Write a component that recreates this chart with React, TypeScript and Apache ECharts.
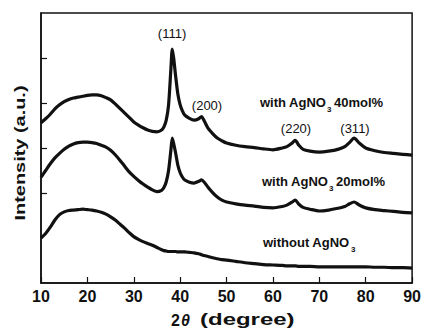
import React, { useEffect, useRef } from "react";
import * as echarts from "echarts";

const theta = [10, 11, 12, 13, 14, 15, 16, 17, 18, 19, 20, 21, 22, 23, 24, 25, 26, 27, 28, 29, 30, 31, 32, 33, 34, 35, 36, 36.5, 37, 37.5, 38, 38.3, 38.6, 39, 39.5, 40, 40.5, 41, 42, 43, 44, 44.6, 45.2, 46, 47, 48, 49, 50, 52, 54, 56, 58, 60, 62, 63, 64, 64.8, 65.6, 66.5, 68, 70, 72, 74, 75.5, 76.5, 77.5, 78.5, 80, 82, 84, 86, 88, 90];

const with40 = [3.56, 3.65, 3.75, 3.87, 3.96, 4.03, 4.08, 4.11, 4.13, 4.15, 4.17, 4.18, 4.18, 4.16, 4.12, 4.07, 3.98, 3.88, 3.78, 3.68, 3.58, 3.51, 3.45, 3.40, 3.37, 3.36, 3.40, 3.47, 3.62, 3.96, 4.75, 5.2, 5.0, 4.62, 4.2, 3.96, 3.82, 3.73, 3.66, 3.62, 3.65, 3.70, 3.60, 3.44, 3.32, 3.22, 3.16, 3.11, 3.06, 3.03, 3.01, 2.98, 2.96, 3.0, 3.03, 3.10, 3.17, 3.06, 2.97, 2.93, 2.91, 2.93, 2.97, 3.03, 3.12, 3.22, 3.12, 3.0, 2.94, 2.9, 2.88, 2.86, 2.84];

const with20 = [2.35, 2.5, 2.65, 2.78, 2.88, 2.97, 3.04, 3.09, 3.12, 3.13, 3.13, 3.12, 3.10, 3.06, 3.02, 2.95, 2.85, 2.73, 2.60, 2.47, 2.37, 2.28, 2.20, 2.13, 2.07, 2.03, 2.06, 2.12, 2.25, 2.50, 2.95, 3.22, 3.1, 2.9, 2.62, 2.45, 2.35, 2.29, 2.24, 2.22, 2.26, 2.29, 2.24, 2.13, 2.01, 1.91, 1.84, 1.80, 1.76, 1.73, 1.71, 1.68, 1.67, 1.70, 1.73, 1.79, 1.84, 1.75, 1.68, 1.64, 1.60, 1.62, 1.66, 1.70, 1.76, 1.80, 1.74, 1.67, 1.63, 1.61, 1.59, 1.57, 1.56];

const without = [1.0, 1.1, 1.24, 1.40, 1.52, 1.58, 1.61, 1.62, 1.63, 1.64, 1.63, 1.62, 1.60, 1.57, 1.53, 1.47, 1.40, 1.31, 1.22, 1.12, 1.03, 0.97, 0.92, 0.88, 0.84, 0.79, 0.74, 0.72, 0.71, 0.70, 0.70, 0.70, 0.70, 0.70, 0.69, 0.69, 0.69, 0.69, 0.68, 0.67, 0.65, 0.63, 0.61, 0.59, 0.56, 0.54, 0.52, 0.51, 0.48, 0.45, 0.43, 0.41, 0.40, 0.39, 0.38, 0.38, 0.38, 0.37, 0.37, 0.37, 0.36, 0.36, 0.36, 0.36, 0.36, 0.36, 0.36, 0.36, 0.35, 0.35, 0.34, 0.34, 0.33];

const xTicks = [10, 20, 30, 40, 50, 60, 70, 80, 90];
const yTickValues = [2, 3, 4, 5];

const FONT = "'Liberation Sans', Arial, Helvetica, sans-serif";

function txt(text: string, x: number, y: number, opts: any = {}) {
  const { align = "center", size = 12, weight = "bold", italic = false, ...rest } = opts;
  return {
    type: "text",
    x,
    y,
    z: 100,
    ...rest,
    style: {
      text,
      fill: "#111",
      fontFamily: FONT,
      fontSize: size,
      fontWeight: weight,
      fontStyle: italic ? "italic" : "normal",
      align,
      textAlign: align,
      verticalAlign: "middle",
      textVerticalAlign: "middle",
    },
  };
}

export default function App() {
  const ref = useRef<HTMLDivElement>(null);
  useEffect(() => {
    const chart = echarts.init(ref.current!, null, { renderer: "svg" });
    const mk = (vals: number[]) => theta.map((t, i) => [t, vals[i]]);
    const lineSeries = (name: string, vals: number[]) => ({
      name,
      type: "line",
      data: mk(vals),
      showSymbol: false,
      smooth: 0.25,
      lineStyle: { color: "#111", width: 3.2 },
      silent: true,
    });
    chart.setOption({
      animation: false,
      backgroundColor: "#fff",
      grid: {
        left: 41,
        right: 10,
        top: 13,
        bottom: 45,
        show: true,
        borderColor: "#111",
        borderWidth: 1.5,
        backgroundColor: "transparent",
      },
      xAxis: {
        type: "value",
        min: xTicks[0],
        max: xTicks[xTicks.length - 1],
        interval: 10,
        axisLine: { show: true, lineStyle: { color: "#111", width: 1.5 } },
        axisTick: { show: true, inside: true, length: 6, lineStyle: { color: "#111", width: 1.2 } },
        axisLabel: {
          color: "#111",
          fontFamily: FONT,
          fontSize: 16,
          fontWeight: "bold",
          margin: 5,
        },
        splitLine: { show: false },
      },
      yAxis: {
        type: "value",
        min: 0,
        max: 6,
        interval: 1,
        axisLine: { show: true, lineStyle: { color: "#111", width: 1.5 } },
        axisTick: {
          show: true,
          inside: true,
          length: 6,
          customValues: yTickValues,
          lineStyle: { color: "#111", width: 1.2 },
        },
        axisLabel: { show: false },
        splitLine: { show: false },
      },
      series: [
        lineSeries("with AgNO3 40mol%", with40),
        lineSeries("with AgNO3 20mol%", with20),
        lineSeries("without AgNO3", without),
      ],
      graphic: [
        txt("(111)", 172, 33, { size: 13, weight: "normal" }),
        txt("(200)", 207, 105, { size: 13, weight: "normal" }),
        txt("(220)", 296, 128, { size: 13, weight: "normal" }),
        txt("(311)", 355, 128, { size: 13, weight: "normal" }),
        txt("with AgNO", 260, 102, { align: "left", size: 13 }),
        txt("3", 327, 109, { align: "left", size: 8 }),
        txt("40mol%", 334, 102, { align: "left", size: 13 }),
        txt("with AgNO", 262, 181, { align: "left", size: 13 }),
        txt("3", 329, 188, { align: "left", size: 8 }),
        txt("20mol%", 336, 181, { align: "left", size: 13 }),
        txt("without AgNO", 263, 242, { align: "left", size: 13 }),
        txt("3", 351, 249, { align: "left", size: 8 }),
        txt("Intensity (a.u.)", 20, 153, { size: 15, rotation: Math.PI / 2, scaleX: 1.33 }),
        txt("2", 171, 320, { align: "left", size: 16 }),
        txt("θ", 181, 320, { align: "left", size: 16, italic: true }),
        txt("(degree)", 200, 320, { align: "left", size: 16, scaleX: 1.5 }),
      ],
    });
    return () => chart.dispose();
  }, []);
  return (
    <div
      ref={ref}
      style={{ width: 424, height: 328, position: "absolute", left: 0, top: 0, background: "#fff" }}
    />
  );
}
